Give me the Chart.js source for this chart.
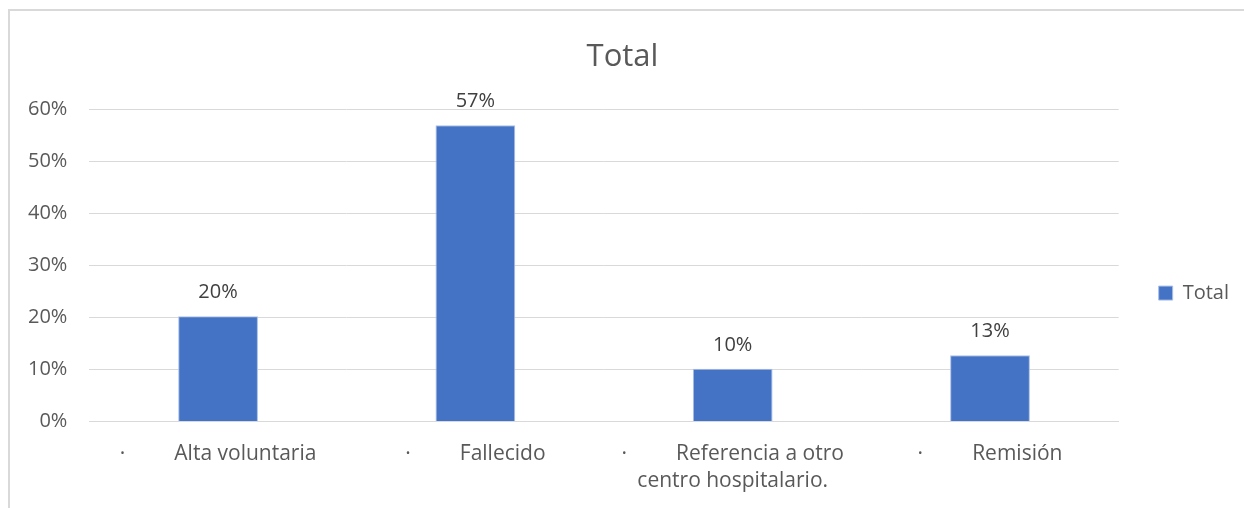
<!doctype html>
<html lang="es">
  <head>
    <meta charset="utf-8">
    <title>Total</title>
    <style>
      * { margin: 0; padding: 0; }
      body { background: #fff; width: 1244px; height: 508px; overflow: hidden; position: relative; }
      .frame {
        position: absolute; left: 8px; top: 9px;
        width: 1260px; height: 520px;
        border: 2px solid #d9d9d9;
      }
      .chartBox { position: absolute; left: 0; top: 0; width: 1244px; height: 508px; }
    </style>
  </head>
  <body>
    <div class="frame"></div>
    <div class="chartBox">
      <canvas id="myChart" width="1244" height="508"></canvas>
    </div>
    <script src="https://cdn.jsdelivr.net/npm/chart.js/dist/chart.umd.min.js"></script>
    <script>
    // data
    const categories = [
      ['·         Alta voluntaria'],
      ['·         Fallecido'],
      ['·         Referencia a otro', 'centro hospitalario.'],
      ['·         Remisión']
    ];
    const totals = [0.202, 0.569, 0.101, 0.127];
    const tickValues = [0, 0.1, 0.2, 0.3, 0.4, 0.5, 0.6];

    const FONT = "'Open Sans', sans-serif";
    const GREY = '#595959';

    // labels above each bar
    const barLabels = {
      id: 'barLabels',
      afterDatasetsDraw(chart) {
        const { ctx } = chart;
        const meta = chart.getDatasetMeta(0);
        ctx.save();
        ctx.font = '20px ' + FONT;
        ctx.fillStyle = '#404040';
        ctx.textAlign = 'center';
        ctx.textBaseline = 'middle';
        meta.data.forEach((bar, i) => {
          ctx.fillText(Math.round(totals[i] * 100) + '%', bar.x, bar.y - 24);
        });
        ctx.restore();
      }
    };

    const config = {
      type: 'bar',
      data: {
        labels: categories,
        datasets: [{
          label: 'Total',
          data: totals,
          backgroundColor: '#4472c4',
          borderColor: '#a9bfe6',
          borderWidth: 1,
          barPercentage: 0.31,
          categoryPercentage: 1
        }]
      },
      options: {
        responsive: false,
        animation: false,
        layout: { padding: { left: 6, right: 5, top: 20, bottom: 2 } },
        scales: {
          x: {
            grid: { display: false },
            border: { display: true, color: '#d9d9d9', width: 1 },
            ticks: {
              color: GREY,
              font: { family: FONT, size: 21, lineHeight: 1.3 },
              padding: 11,
              maxRotation: 0,
              autoSkip: false
            }
          },
          y: {
            min: 0,
            max: 0.6,
            afterBuildTicks: (axis) => { axis.ticks = tickValues.map(v => ({ value: v })); },
            grid: { color: '#d9d9d9', drawTicks: false, lineWidth: 1 },
            border: { display: false },
            ticks: {
              color: GREY,
              font: { family: FONT, size: 20 },
              padding: 22,
              callback: (v) => Math.round(v * 100) + '%'
            }
          }
        },
        plugins: {
          title: {
            display: true,
            text: 'Total',
            color: GREY,
            font: { family: FONT, size: 31, weight: 'normal' },
            padding: { top: 19, bottom: 33 }
          },
          legend: {
            position: 'right',
            title: {
              display: true,
              text: '',
              font: { size: 1 },
              padding: { top: 59, bottom: 0 }
            },
            labels: {
              color: GREY,
              font: { family: FONT, size: 20 },
              boxWidth: 14,
              boxHeight: 14,
              padding: 40
            }
          },
          tooltip: { enabled: false }
        }
      },
      plugins: [barLabels]
    };

    const myChart = new Chart(document.getElementById('myChart'), config);
    </script>
  </body>
</html>
